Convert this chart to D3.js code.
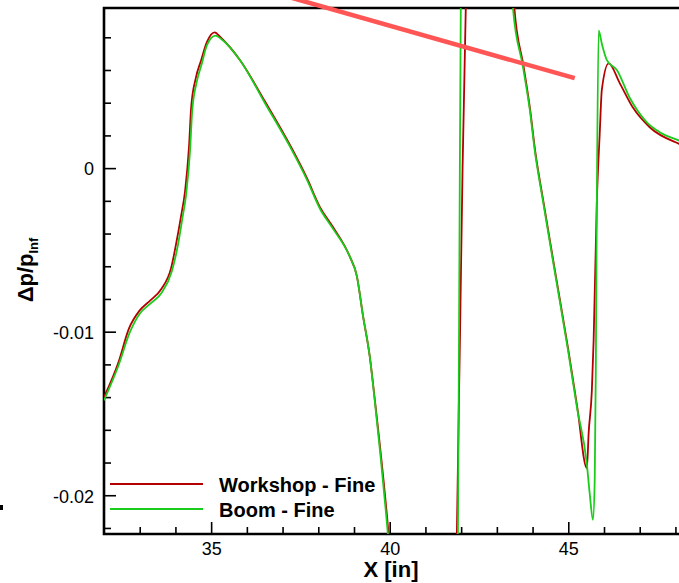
<!DOCTYPE html>
<html>
<head>
<meta charset="utf-8">
<script src="https://cdn.jsdelivr.net/npm/d3@7"></script>
<style>
  body { margin: 0; background: #fff; }
  svg { display: block; font-family: "Liberation Sans", Arial, Helvetica, sans-serif; }
</style>
</head>
<body>
<svg id="chart" width="679" height="583"></svg>
<script>
// series: [x (in), dp/pinf]
let workshop = [
  [32.0, -0.0140], [32.4, -0.0119], [32.7, -0.0098], [33.0, -0.0087], [33.29, -0.0081],
  [33.6, -0.0074], [33.88, -0.0061], [34.03, -0.0045], [34.16, -0.0029], [34.27, -0.0014],
  [34.38, 0.0013], [34.44, 0.0037], [34.57, 0.0055], [34.72, 0.0066], [34.88, 0.0077],
  [35.10, 0.0083], [35.26, 0.0080], [35.81, 0.0066], [36.5, 0.0041], [37.26, 0.0012],
  [37.68, -0.0006], [38.05, -0.0024], [38.41, -0.0036], [38.88, -0.0054], [39.08, -0.0066],
  [39.25, -0.0090], [39.44, -0.0115], [39.58, -0.0141], [39.97, -0.0224], [40.3, -0.032],
  [41.2, -0.036], [41.84, -0.030], [41.88, -0.0224], [41.97, -0.0100], [42.04, 0.0000],
  [42.13, 0.0098], [42.2, 0.016], [42.8, 0.022], [43.4, 0.014], [43.49, 0.0098],
  [43.75, 0.0062], [43.93, 0.0036], [44.07, 0.0011], [44.30, -0.0020], [44.66, -0.0067],
  [45.0, -0.0111], [45.25, -0.0146], [45.52, -0.01835], [45.57, -0.0162], [45.66, -0.0136],
  [45.71, -0.0105], [45.80, -0.0020], [45.88, 0.0021], [45.94, 0.0048], [46.13, 0.0064],
  [46.44, 0.0052], [46.81, 0.0037], [47.28, 0.0025], [48.09, 0.0015], [48.2, 0.0014]
];

let boom = [
  [32.0, -0.0142], [32.4, -0.0121], [32.73, -0.0100], [33.0, -0.0089], [33.29, -0.0083],
  [33.62, -0.0076], [33.90, -0.0063], [34.07, -0.0047], [34.20, -0.0030], [34.30, -0.0016],
  [34.41, 0.0011], [34.47, 0.0035], [34.60, 0.0053], [34.74, 0.0064], [34.88, 0.0075],
  [35.12, 0.0081], [35.28, 0.0079], [35.81, 0.0066], [36.5, 0.0040], [37.26, 0.0011],
  [37.68, -0.0007], [38.05, -0.0025], [38.41, -0.0037], [38.88, -0.0054], [39.08, -0.0066],
  [39.25, -0.0090], [39.44, -0.0115], [39.58, -0.0142], [39.95, -0.0224], [40.3, -0.032],
  [41.2, -0.036], [41.85, -0.030], [41.91, -0.0224], [41.95, -0.0060], [41.99, 0.0098],
  [42.05, 0.016], [42.8, 0.022], [43.35, 0.014], [43.45, 0.0098], [43.73, 0.0062],
  [43.92, 0.0036], [44.06, 0.0011], [44.29, -0.0020], [44.65, -0.0067], [44.99, -0.0111],
  [45.24, -0.0146], [45.52, -0.0181], [45.60, -0.0199], [45.69, -0.0215], [45.74, -0.0191],
  [45.77, -0.0125], [45.80, -0.0020], [45.85, 0.0084], [45.95, 0.0075], [46.08, 0.0066],
  [46.36, 0.0060], [46.72, 0.0043], [47.20, 0.0028], [47.56, 0.0022], [48.09, 0.0017],
  [48.2, 0.0016]
];

// highlight stroke drawn over the plot
let marker = [[36.95, 0.0106], [45.18, 0.0055]];

let xMajor = [35, 40, 45];
let xMinor = [33, 34, 36, 37, 38, 39, 41, 42, 43, 44, 46, 47, 48];
let yMajor = [0, -0.01, -0.02];
let yMinor = [0.008, 0.006, 0.004, 0.002, -0.002, -0.004, -0.006, -0.008,
              -0.012, -0.014, -0.016, -0.018, -0.022];
let legendNames = ["Workshop - Fine", "Boom - Fine"];
let colors = ["#b40000", "#1ccc1c"];

let svg = d3.select("#chart"),
    pLeft = 104, pTop = 8, pBottom = 534, pRight = 679;

let x = d3.scaleLinear().domain([32, 48.1]).range([pLeft, pRight]);
let y = d3.scaleLinear().domain([-0.02237, 0.00979]).range([pBottom, pTop]);

svg.append("clipPath").attr("id", "plotclip")
  .append("rect")
    .attr("x", pLeft).attr("y", pTop)
    .attr("width", pRight - pLeft + 20).attr("height", pBottom - pTop);

let fmt = function(d) { return d === 0 ? "0" : d3.format(".2f")(d).replace("\u2212", "-"); };

// y axis
let yAx = svg.append("g")
    .attr("transform", "translate(" + pLeft + ",0)")
    .call(d3.axisLeft(y).tickValues(yMajor).tickSize(-12).tickPadding(10).tickFormat(fmt));
svg.append("g")
    .attr("transform", "translate(" + pLeft + ",0)")
    .call(d3.axisLeft(y).tickValues(yMinor).tickSize(-7).tickFormat(""));

// x axis
let xAx = svg.append("g")
    .attr("transform", "translate(0," + pBottom + ")")
    .call(d3.axisBottom(x).tickValues(xMajor).tickSize(-12).tickPadding(8).tickFormat(d3.format("d")));
svg.append("g")
    .attr("transform", "translate(0," + pBottom + ")")
    .call(d3.axisBottom(x).tickValues(xMinor).tickSize(-7).tickFormat(""));

svg.selectAll(".domain").remove();
svg.selectAll(".tick line").attr("stroke", "#000").attr("stroke-width", 1.6);
svg.selectAll(".tick text").attr("font-size", 18).attr("fill", "#000")
    .attr("font-family", "'Liberation Sans', Arial, sans-serif");
yAx.selectAll(".tick text").attr("dy", "0.38em");

// frame
svg.append("path")
    .attr("d", "M" + (pRight + 5) + "," + pTop + "H" + pLeft + "V" + pBottom + "H" + (pRight + 5))
    .attr("fill", "none").attr("stroke", "#000").attr("stroke-width", 2.6);

let line = d3.line()
    .curve(d3.curveMonotoneX)
    .x(function(d) { return x(d[0]); })
    .y(function(d) { return y(d[1]); });

let plot = svg.append("g").attr("clip-path", "url(#plotclip)");
[workshop, boom].forEach(function(s, i) {
  plot.append("path")
      .datum(s)
      .attr("fill", "none")
      .attr("stroke", colors[i])
      .attr("stroke-width", 1.8)
      .attr("stroke-linejoin", "round")
      .attr("d", line);
});

svg.append("path")
    .datum(marker)
    .attr("fill", "none")
    .attr("stroke", "#ff5555")
    .attr("stroke-width", 4.5)
    .attr("d", line);

// legend
let legend = svg.append("g")
  .selectAll("g")
  .data(legendNames)
  .enter().append("g")
    .attr("transform", function(d, i) { return "translate(110," + (484 + i * 25) + ")"; });

legend.append("line")
    .attr("x1", 0).attr("x2", 93)
    .attr("stroke", function(d, i) { return colors[i]; })
    .attr("stroke-width", 1.8);

legend.append("text")
    .attr("x", 109)
    .attr("y", 8)
    .attr("font-size", 20)
    .attr("font-weight", "bold")
    .text(function(d) { return d; });

// axis titles
svg.append("text")
    .attr("x", 391)
    .attr("y", 577)
    .attr("text-anchor", "middle")
    .attr("font-size", 22)
    .attr("font-weight", "bold")
    .text("X [in]");

let yt = svg.append("text")
    .attr("transform", "translate(33,270) rotate(-90)")
    .attr("text-anchor", "middle")
    .attr("font-size", 22)
    .attr("font-weight", "bold");
yt.append("tspan").text("\u0394p/p");
yt.append("tspan").attr("font-size", 13).attr("dy", 5).text("Inf");

svg.append("rect").attr("x", 0).attr("y", 505).attr("width", 3).attr("height", 5).attr("fill", "#000");
</script>
</body>
</html>
